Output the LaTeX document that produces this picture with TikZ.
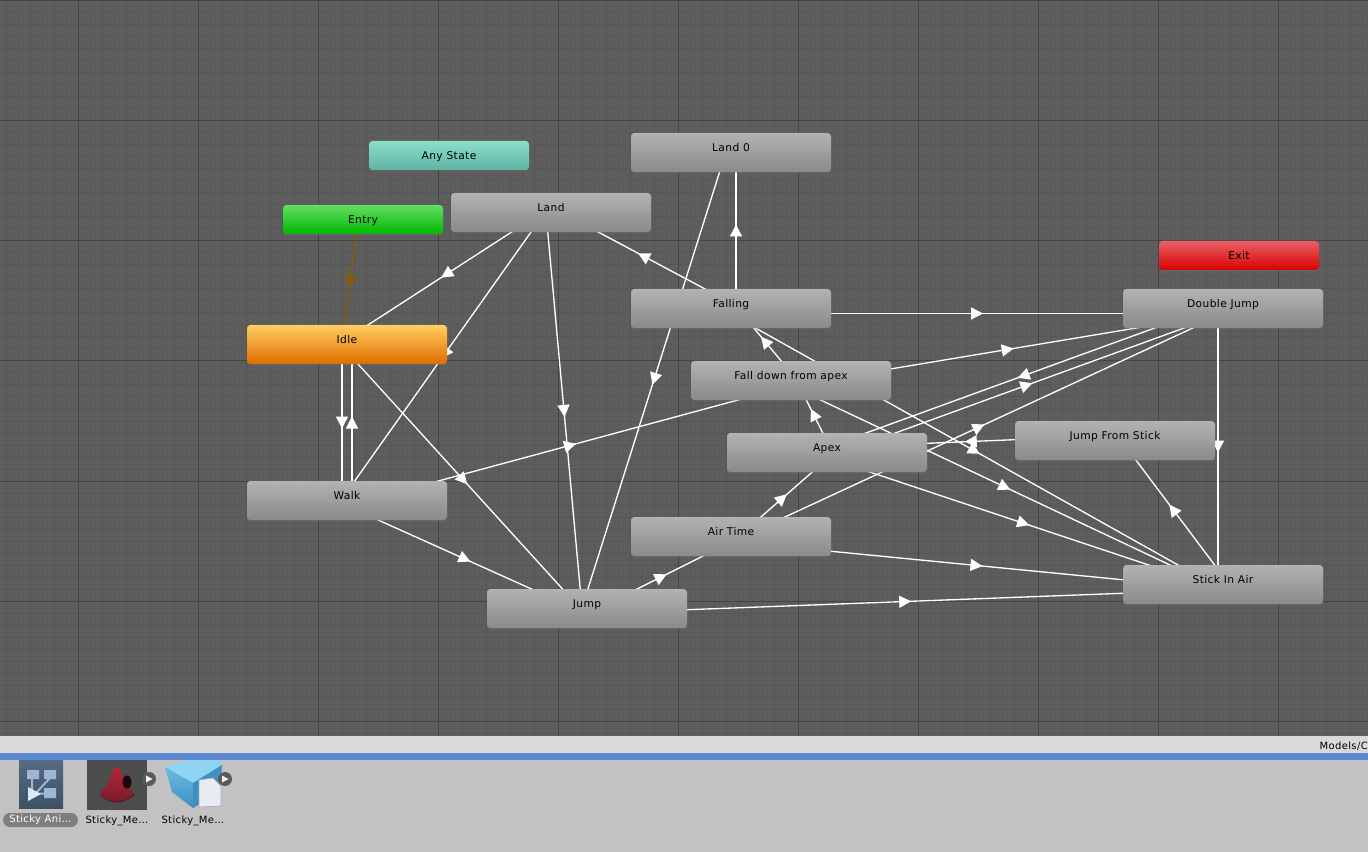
\documentclass[tikz,border=0pt]{standalone}
\usepackage{fontspec}
\setmainfont{DejaVu Sans}[LetterSpace=3.6]
\usetikzlibrary{calc,backgrounds,shadows,arrows.meta,decorations.markings}
\definecolor{gridbg}{HTML}{5D5D5D}
\definecolor{gridminor}{HTML}{565656}
\definecolor{gridmajor}{HTML}{444444}
\definecolor{entrybrown}{HTML}{8A5A0A}
\definecolor{greytop}{HTML}{B2B2B2}
\definecolor{greybot}{HTML}{8A8A8A}
\definecolor{anytop}{HTML}{8ADFC9}
\definecolor{anybot}{HTML}{5FB3A4}
\definecolor{entrytop}{HTML}{62DE62}
\definecolor{entrybot}{HTML}{00B800}
\definecolor{exittop}{HTML}{E96066}
\definecolor{exitbot}{HTML}{D80000}
\definecolor{idletop}{HTML}{FFCE60}
\definecolor{idlebot}{HTML}{E06C00}
\definecolor{stripgrey}{HTML}{D9D9D9}
\definecolor{barblue}{HTML}{5B87D3}
\definecolor{panelgrey}{HTML}{C2C2C2}
\definecolor{ctrltop}{HTML}{566C82}
\definecolor{ctrlbot}{HTML}{3D5064}
\definecolor{iconblue}{HTML}{9DB6D3}
\definecolor{iconlight}{HTML}{DCE8F6}
\definecolor{pillgrey}{HTML}{7E7E7E}
\definecolor{meshbg}{HTML}{4C4C4C}
\definecolor{meshred}{HTML}{B02838}
\definecolor{meshdark}{HTML}{7A1C2A}
\definecolor{cubetop}{HTML}{8FD4F2}
\definecolor{cubeleft}{HTML}{6CBBE4}
\definecolor{cubedark}{HTML}{3E8FC2}
\definecolor{docwhite}{HTML}{E6ECF1}
\definecolor{docedge}{HTML}{A8B0B6}
\definecolor{btngrey}{HTML}{5A5A5A}
\tikzset{
	statebox/.style={rounded corners=2.5pt, minimum width=150pt, inner sep=0pt, text=black, font=\fontsize{8}{10}\selectfont,
		text height=14pt, text depth=15.25pt, drop shadow={shadow xshift=0pt, shadow yshift=-1pt, opacity=0.25}},
	greybox/.style={statebox, top color=greytop, bottom color=greybot},
	smallbox/.style={statebox, minimum width=120pt, text height=14pt, text depth=7.75pt},
	trans/.style={white, line width=1pt, decoration={markings, mark=at position 0.5 with {\arrow[xshift=4.5pt]{Triangle[length=9pt, width=9pt]}}}, postaction={decorate}},
	filelabel/.style={font=\fontsize{7.5}{9}\selectfont, inner sep=0pt, text=black}
}
\begin{document}
\begin{tikzpicture}[x=0.75pt, y=-0.75pt]
	\useasboundingbox (0,0) rectangle (1368,852);
	% states
	\node[smallbox, top color=anytop, bottom color=anybot] (anystate) at (449,155.5) {Any State};
	\node[smallbox, top color=entrytop, bottom color=entrybot] (entry) at (363,219.5) {Entry};
	\node[smallbox, top color=exittop, bottom color=exitbot] (exit) at (1239,255.5) {Exit};
	\node[greybox] (land) at (551,212.5) {Land};
	\node[greybox] (land0) at (731,152.5) {Land 0};
	\node[greybox, top color=idletop, bottom color=idlebot] (idle) at (347,344.5) {Idle};
	\node[greybox] (falling) at (731,308.5) {Falling};
	\node[greybox] (doublejump) at (1223,308.5) {Double Jump};
	\node[greybox] (falldown) at (791,380.5) {Fall down from apex};
	\node[greybox] (apex) at (827,452.5) {Apex};
	\node[greybox] (jumpstick) at (1115,440.5) {Jump From Stick};
	\node[greybox] (walk) at (347,500.5) {Walk};
	\node[greybox] (airtime) at (731,536.5) {Air Time};
	\node[greybox] (jump) at (587,608.5) {Jump};
	\node[greybox] (stickair) at (1223,584.5) {Stick In Air};

	% grid and transitions go under the states
	\begin{scope}[on background layer]
		\fill[gridbg] (0,0) rectangle (1368,736);
		\foreach \x in {6,18,...,1362} \draw[gridminor, line width=0.75pt] (\x,0)--(\x,736);
		\foreach \y in {1,13,...,733} \draw[gridminor, line width=0.75pt] (0,\y)--(1368,\y);
		\foreach \x in {78,198,...,1278} \draw[gridmajor, line width=0.75pt] (\x,0)--(\x,736);
		\foreach \y in {1,121,...,721} \draw[gridmajor, line width=0.75pt] (0,\y)--(1368,\y);
		\foreach \a/\b in {land/idle, land/walk, land/jump, falling/land, falling/land0, land0/jump,
			falling/doublejump, falldown/doublejump, doublejump/apex, apex/doublejump, airtime/doublejump,
			apex/falldown, falldown/falling, falling/stickair, falldown/stickair, apex/stickair,
			stickair/jumpstick, doublejump/stickair, jumpstick/apex, airtime/apex, airtime/stickair,
			jump/airtime, jump/stickair, idle/walk, walk/idle, walk/jump, idle/jump, walk/falldown}
			\draw[trans] ($(\a.center)!3.75pt!-90:(\b.center)$)--($(\b.center)!3.75pt!90:(\a.center)$);
		\draw[trans, entrybrown] ($(entry.center)!3.75pt!-90:(idle.center)$)--($(idle.center)!3.75pt!90:(entry.center)$);
	\end{scope}

	% project panel
	\fill[stripgrey] (0,736) rectangle (1368,753);
	\fill[barblue] (0,753) rectangle (1368,760);
	\fill[panelgrey] (0,760) rectangle (1368,852);
	\node[filelabel, anchor=east] (pathtext) at (1368,746.5) {Models/C};

	% controller icon
	\shade[top color=ctrltop, bottom color=ctrlbot] (19,760) rectangle (63,808);
	\draw[iconblue, line width=1.5pt] (32,778)--(32,790) (50,778)--(34,795) (38,793.5)--(46,793.5);
	\fill[iconblue] (27,770) rectangle (39,779) (44,770) rectangle (56,779) (44,788) rectangle (56,798);
	\fill[iconlight] (28,787)--(28,801)--(41,794)--cycle;
	\node[fill=pillgrey, rounded corners=5pt, minimum width=56pt, minimum height=10.5pt, inner sep=0pt, text=white, font=\fontsize{7.5}{9}\selectfont] (ctrllabel) at (40.5,820) {Sticky Ani…};

	% mesh preview
	\fill[meshbg] (87,760) rectangle (147,810);
	\fill[meshdark!70!black] (101,795) .. controls (110,806) and (126,804) .. (135,794)--(120,790)--cycle;
	\shade[top color=meshred, bottom color=meshdark] (117,767) .. controls (123,767) and (122,785) .. (133,792) .. controls (134,798) and (122,802) .. (113,801) .. controls (105,800) and (99,797) .. (100,793) .. controls (110,786) and (111,768) .. (117,767)--cycle;
	\fill[meshdark!25!black] (127,782) ellipse (4.5 and 6.5);
	\node[filelabel] (meshlabel) at (117,820.5) {Sticky\_Me…};

	% cube
	\fill[cubetop] (165,767)--(190,760)--(218,760)--(222,765)--(193,783)--cycle;
	\shade[top color=cubeleft, bottom color=cubedark] (165,767)--(193,783)--(193,808)--(172,792)--cycle;
	\fill[cubedark] (193,783)--(222,765)--(220,792)--(193,808)--cycle;
	\fill[docwhite, draw=docedge, line width=0.5pt] (199,780)--(213,778)--(221,786)--(221,806)--(199,807)--cycle;
	\node[filelabel] (cubelabel) at (193,820.5) {Sticky\_Me…};

	% play buttons
	\foreach \x in {149,225} {
		\fill[btngrey] (\x,779) circle (7);
		\fill[white!90!gray] (\x-3,775.5)--(\x-3,782.5)--(\x+3.5,779)--cycle;
	}
\end{tikzpicture}
\end{document}
